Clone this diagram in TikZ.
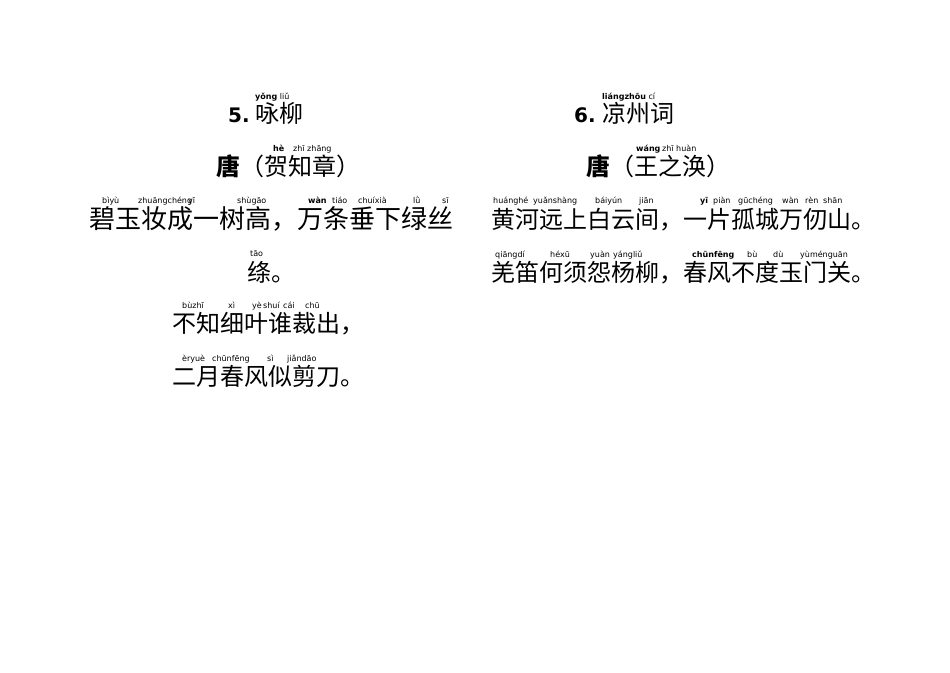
\documentclass[tikz,border=0pt]{standalone}
\usepackage{fontspec}
\setmainfont{DejaVu Sans}
\newfontfamily\cjk{Noto Sans CJK SC}
\tikzset{
 py/.style={anchor=base west,inner sep=0pt,font=\fontsize{8}{9}\selectfont},
 zh/.style={anchor=base west,inner sep=0pt,font=\cjk\fontsize{24}{26}\selectfont},
 ti/.style={anchor=base west,inner sep=0pt,font=\fontsize{20}{22}\selectfont\bfseries},
}
\begin{document}
\begin{tikzpicture}[x=1pt,y=-1pt]
\useasboundingbox (0,0) rectangle (950,672);
% Left poem
\node[py] (p1) at (255,99) {\textbf{yǒng} liǔ};
\node[ti] (t1) at (228,122) {5.};
\node[zh] (c1) at (255,122) {咏柳};
\node[py] (p2a) at (273,151) {\textbf{hè}};
\node[py] (p2b) at (293,151) {zhī zhāng};
\node[zh,font=\cjk\bfseries\fontsize{24}{26}\selectfont] (c2a) at (216,175) {唐};
\node[zh] (c2b) at (240,175) {（贺知章）};
\foreach \x/\t [count=\i] in {102/bìyù,138/zhuāngchéng,188/yī,237/shùgāo,332/tiáo,358/chuíxià,413/lǜ,442/sī}
  \node[py] (l1p\i) at (\x,203) {\t};
\node[py] (l1w) at (308,203) {\textbf{wàn}};
\node[zh,font=\cjk\fontsize{26}{28}\selectfont] (l1) at (89,228) {碧玉妆成一树高，万条垂下绿丝};
\node[py] (l2p) at (250,256) {tāo};
\node[zh] (l2) at (247,281) {绦。};
\foreach \x/\t [count=\i] in {182/bùzhī,228/xì,252/yè,263/shuí,283/cái,305/chū}
  \node[py] (l3p\i) at (\x,308) {\t};
\node[zh] (l3) at (172,332) {不知细叶谁裁出，};
\foreach \x/\t [count=\i] in {182/èryuè,212/chūnfēng,267/sì,287/jiǎndāo}
  \node[py] (l4p\i) at (\x,361) {\t};
\node[zh] (l4) at (172,385) {二月春风似剪刀。};
% Right poem
\node[py] (q1) at (602,99) {\textbf{liángzhōu} cí};
\node[ti] (t2) at (574,122) {6.};
\node[zh] (d1) at (602,122) {凉州词};
\node[py] (q2a) at (636,151) {\textbf{wáng}};
\node[py] (q2b) at (662,151) {zhī huàn};
\node[zh,font=\cjk\bfseries\fontsize{24}{26}\selectfont] (d2a) at (586,175) {唐};
\node[zh] (d2b) at (610,175) {（王之涣）};
\foreach \x/\t [count=\i] in {493/huánghé,533/yuǎnshàng,595/báiyún,639/jiān,713/piàn,738/gūchéng,782/wàn,805/rèn,823/shān}
  \node[py] (r1p\i) at (\x,203) {\t};
\node[py] (r1y) at (700,203) {\textbf{yī}};
\node[zh] (r1) at (491,228) {黄河远上白云间，一片孤城万仞山。};
\foreach \x/\t [count=\i] in {495/qiāngdí,550/héxū,590/yuàn,613/yángliǔ,747/bù,773/dù,800/yùménguān}
  \node[py] (r2p\i) at (\x,257) {\t};
\node[py] (r2c) at (692,257) {\textbf{chūnfēng}};
\node[zh] (r2) at (491,281) {羌笛何须怨杨柳，春风不度玉门关。};
\end{tikzpicture}
\end{document}
